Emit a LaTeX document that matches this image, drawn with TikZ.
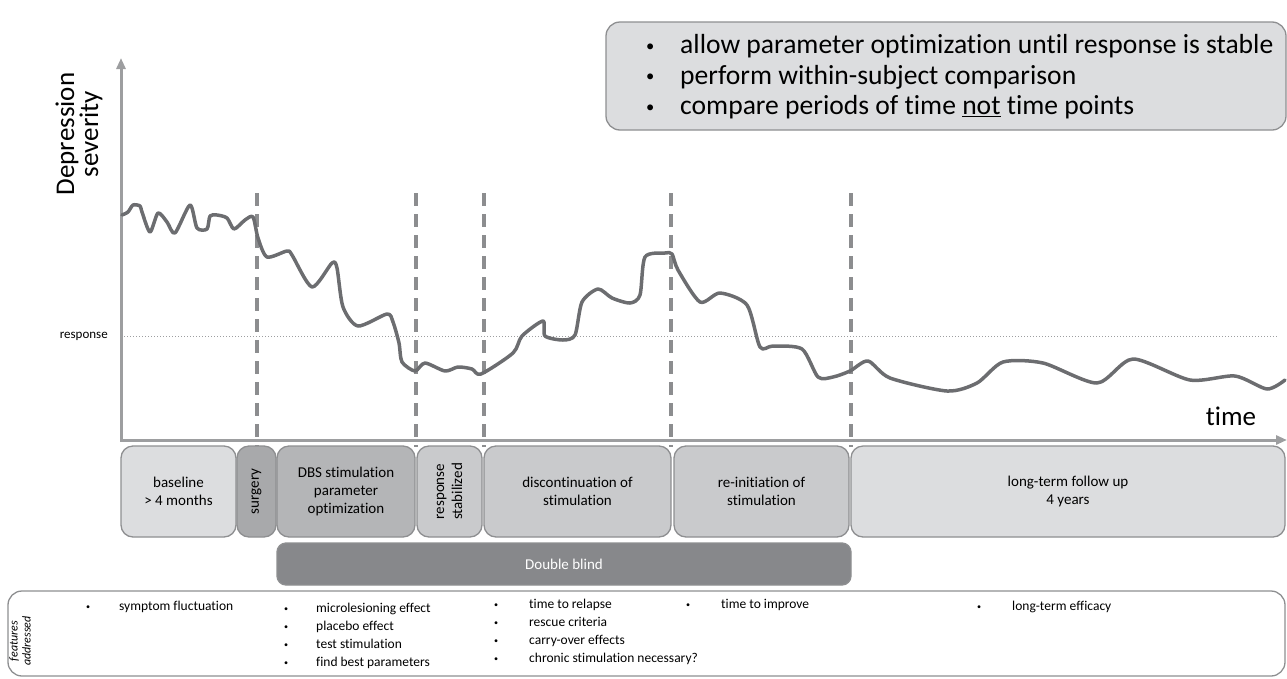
\documentclass[tikz,border=0pt]{standalone}
\usepackage{fontspec}
\setmainfont{Carlito}[Ligatures={NoCommon,NoContextual}]
\usetikzlibrary{arrows.meta}
\definecolor{axisgray}{HTML}{9D9EA0}
\definecolor{curvegray}{HTML}{6C6D70}
\definecolor{dashgray}{HTML}{8C8D8F}
\definecolor{boxline}{HTML}{8E8F91}
\definecolor{palefill}{HTML}{DCDDDF}
\definecolor{midfill}{HTML}{C9CACC}
\definecolor{deepfill}{HTML}{B4B5B7}
\definecolor{surgfill}{HTML}{A8A9AB}
\definecolor{blindfill}{HTML}{87888B}
\newcommand{\bulletgap}[2]{\makebox[#1][l]{\raisebox{0.1em}{\scalebox{0.6}{\textbullet}}}#2}
\begin{document}
\begin{tikzpicture}[x=1pt,y=-1pt,
  axis/.style={draw=axisgray,line width=3pt},
  phaseline/.style={draw=dashgray,line width=3.5pt,dash pattern=on 13pt off 8pt},
  curve/.style={draw=curvegray,line width=3.5pt,line join=round,line cap=round},
  phase/.style={draw=boxline,line width=1.3pt,rounded corners=12pt,inner sep=0pt,align=center,minimum height=91pt,font=\fontsize{15}{18}\selectfont},
  turned/.style={phase,rotate=90,minimum width=91pt},
  item/.style={anchor=west,align=left,inner sep=0pt,font=\fontsize{13.5}{18}\selectfont}]
\useasboundingbox (0,0) rectangle (1287,678);
% aims of the design
\node[draw=boxline,line width=1.3pt,fill=palefill,rounded corners=14pt,minimum width=680pt,minimum height=108pt] (aims) at (946,76) {};
\node[anchor=west,align=left,inner sep=0pt,font=\fontsize{27.6}{30.5}\selectfont] (aimlist) at (646,77) {\bulletgap{34pt}{allow parameter optimization until response is stable}\\\bulletgap{34pt}{perform within-subject comparison}\\\bulletgap{34pt}{compare periods of time \underline{not} time points}};
% axes
\coordinate (origin) at (121,440);
\coordinate (ytip) at (121,58);
\coordinate (xtip) at (1287,440);
\draw[axis,{Triangle[length=11pt,width=9pt]}-{Triangle[length=11pt,width=9pt]}] (ytip) -- (origin) -- (xtip);
\node[rotate=90,align=center,font=\fontsize{27}{24}\selectfont] (ylabel) at (79,134) {Depression\\severity};
\node[anchor=base,font=\fontsize{27}{30}\selectfont] (timelabel) at (1231,425) {time};
\node[anchor=east,inner sep=0pt,font=\fontsize{13}{15}\selectfont] (resplabel) at (108,336) {response};
\coordinate (respstart) at (121,336);
\coordinate (respend) at (1277,336);
\draw[axisgray,line width=1pt,dotted] (respstart) -- (respend);
% phase borders
\foreach \x in {257,416,484,671,851}
  \draw[phaseline] (\x,193) -- (\x,447);
% severity over time
\draw[curve] plot[smooth,tension=0.45] coordinates {(122,215) (128,212) (133,205) (140,206) (142,212) (150,232) (158,213) (167,222) (175,233) (190,205) (197,228) (207,229) (210,216) (217,215) (227,218) (234,229) (245,220) (253,217) (258,238) (267,257) (287,251) (292,255) (312,287) (332,263) (337,268) (343,307) (358,326) (387,314) (393,322) (399,343) (402,362) (415,371) (425,363) (445,371) (458,367) (472,369) (481,374) (513,353) (522,336) (543,321) (545,336) (563,340) (575,335) (582,302) (598,289) (612,298) (630,303) (640,295) (645,257) (665,253) (672,254) (678,270) (700,302) (720,293) (747,305) (760,347) (773,346) (802,349) (818,377) (833,377) (850,371) (868,361) (890,378) (947,391) (977,383) (1003,362) (1043,363) (1097,383) (1133,359) (1190,380) (1235,376) (1267,389) (1285,380)};
% phases
\node[phase,fill=palefill,minimum width=115pt] (baseline) at (178.5,491.5) {baseline\\> 4 months};
\node[turned,fill=surgfill,minimum height=39pt] (surgery) at (256.5,491.5) {surgery};
\node[phase,fill=deepfill,minimum width=138pt] (optim) at (346,491.5) {DBS stimulation\\parameter\\optimization};
\node[turned,fill=midfill,minimum height=65pt] (stable) at (449.5,491.5) {response\\stabilized};
\node[phase,fill=midfill,minimum width=187pt] (discont) at (577.5,491.5) {discontinuation of\\stimulation};
\node[phase,fill=midfill,minimum width=175pt] (reinit) at (761.5,491.5) {re-initiation of\\stimulation};
\node[phase,fill=palefill,minimum width=434pt] (followup) at (1068,491.5) {long-term follow up\\4 years};
\node[phase,fill=blindfill,text=white,rounded corners=9pt,minimum width=574pt,minimum height=42pt] (blind) at (564,564) {Double blind};
% features addressed
\node[draw=boxline,line width=1.3pt,rounded corners=14pt,minimum width=1277pt,minimum height=85pt] (features) at (646.5,633.5) {};
\node[rotate=90,align=center,font=\fontsize{12}{13}\selectfont\itshape] (featlabel) at (20,641) {features\\addressed};
\node[item] (fluct) at (86,607) {\bulletgap{33pt}{symptom fluctuation}};
\node[item] (lesion) at (284,636) {\bulletgap{32pt}{microlesioning effect}\\\bulletgap{32pt}{placebo effect}\\\bulletgap{32pt}{test stimulation}\\\bulletgap{32pt}{find best parameters}};
\node[item] (relapse) at (494,632) {\bulletgap{35pt}{time to relapse}\\\bulletgap{35pt}{rescue criteria}\\\bulletgap{35pt}{carry-over effects}\\\bulletgap{35pt}{chronic stimulation necessary?}};
\node[item] (improve) at (686,605) {\bulletgap{35pt}{time to improve}};
\node[item] (efficacy) at (977,607) {\bulletgap{35pt}{long-term efficacy}};
\end{tikzpicture}
\end{document}
